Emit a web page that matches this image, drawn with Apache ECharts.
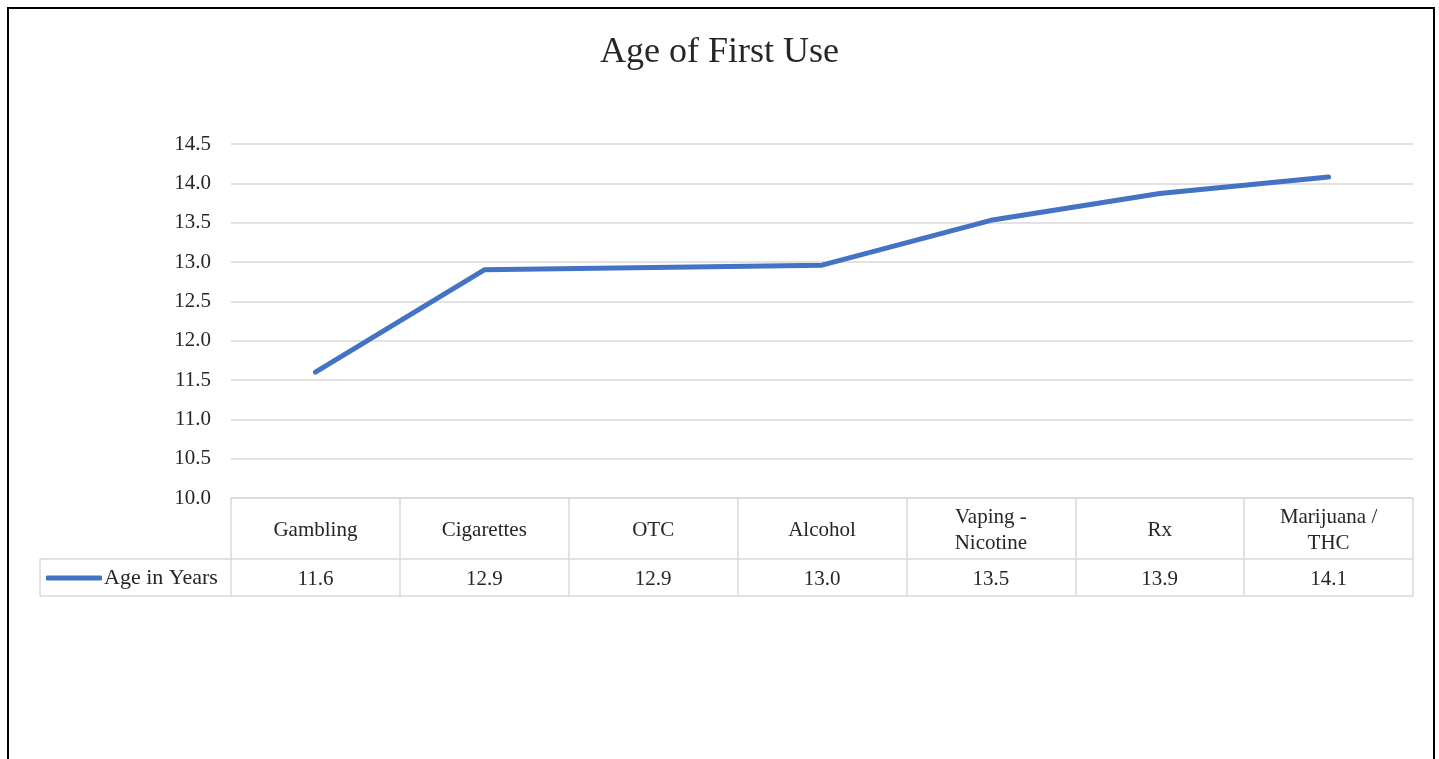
<!DOCTYPE html>
<html>
<head>
<meta charset="utf-8">
<script src="https://cdn.jsdelivr.net/npm/echarts@6/dist/echarts.min.js"></script>
<style>
html,body{margin:0;padding:0;background:#fff;overflow:hidden;}
#main{position:absolute;left:0;top:0;width:1439px;height:759px;}
#frame{position:absolute;left:7px;top:7px;width:1424px;height:800px;border:2px solid #000;pointer-events:none;}
</style>
</head>
<body>
<div id="main"></div>
<div id="frame"></div>
<script>
const chartTitle = 'Age of First Use';
const seriesName = 'Age in Years';
const categories = ['Gambling', 'Cigarettes', 'OTC', 'Alcohol', 'Vaping -\nNicotine', 'Rx', 'Marijuana /\nTHC'];
const ages = [11.6, 12.9, 12.93, 12.96, 13.53, 13.87, 14.08];
const yMin = 10, yMax = 14.5, yStep = 0.5;

const FONT = '"Liberation Serif", "DejaVu Serif", serif';
const TXT = '#262626';
const GRIDC = '#d9d9d9';
const BLUE = '#4472C4';

const chart = echarts.init(document.getElementById('main'));
chart.setOption({
  backgroundColor: '#fff',
  animation: false,
  title: {
    text: chartTitle, left: 'center', top: 30,
    textStyle: { fontFamily: FONT, fontSize: 36, fontWeight: 'normal', color: TXT }
  },
  legend: {
    data: [{ name: seriesName, icon: 'roundRect' }], left: 41, top: 562, itemWidth: 56, itemHeight: 5, itemGap: 5,
    itemStyle: { color: BLUE },
    textStyle: { fontFamily: FONT, fontSize: 22, color: TXT, padding: [0, 0, 0, -3] }
  },
  grid: { left: 231, right: 26, top: 144, bottom: 261, containLabel: false },
  xAxis: [
    {
      type: 'category', data: categories, boundaryGap: true, position: 'bottom',
      axisLine: { show: true, lineStyle: { color: GRIDC, width: 1.5 } },
      axisTick: { show: true, interval: 0, length: 98, lineStyle: { color: GRIDC, width: 1.5 } },
      axisLabel: { interval: 0, margin: 32, verticalAlign: 'middle', lineHeight: 26,
        fontFamily: FONT, fontSize: 21, color: TXT }
    },
    {
      type: 'category', data: categories, boundaryGap: true, position: 'bottom', offset: 61,
      axisLine: { show: true, lineStyle: { color: GRIDC, width: 1.5 } },
      axisTick: { show: false },
      axisLabel: { interval: 0, margin: 20, verticalAlign: 'middle',
        fontFamily: FONT, fontSize: 21, color: TXT,
        formatter: (v, i) => ages[i].toFixed(1) }
    },
    {
      type: 'category', data: categories, boundaryGap: true, position: 'bottom', offset: 98,
      axisLine: { show: true, lineStyle: { color: GRIDC, width: 1.5 } },
      axisTick: { show: false }, axisLabel: { show: false }
    }
  ],
  yAxis: {
    type: 'value', min: yMin, max: yMax, interval: yStep,
    axisLine: { show: false }, axisTick: { show: false },
    splitLine: { show: true, lineStyle: { color: GRIDC, width: 1.5 } },
    axisLabel: { margin: 20, fontFamily: FONT, fontSize: 21, color: TXT,
      padding: [3, 0, 0, 0],
      formatter: v => v.toFixed(1) }
  },
  graphic: [
    { type: 'line', shape: { x1: 40, y1: 559, x2: 231, y2: 559 }, style: { stroke: GRIDC, lineWidth: 1.5 } },
    { type: 'line', shape: { x1: 40, y1: 596, x2: 231, y2: 596 }, style: { stroke: GRIDC, lineWidth: 1.5 } },
    { type: 'line', shape: { x1: 40, y1: 559, x2: 40, y2: 596 }, style: { stroke: GRIDC, lineWidth: 1.5 } }
  ],
  series: [{
    name: seriesName, type: 'line', data: ages, xAxisIndex: 0,
    symbol: 'none', smooth: false,
    lineStyle: { color: BLUE, width: 5, cap: 'round', join: 'round' },
    itemStyle: { color: BLUE }
  }]
});
</script>
</body>
</html>
